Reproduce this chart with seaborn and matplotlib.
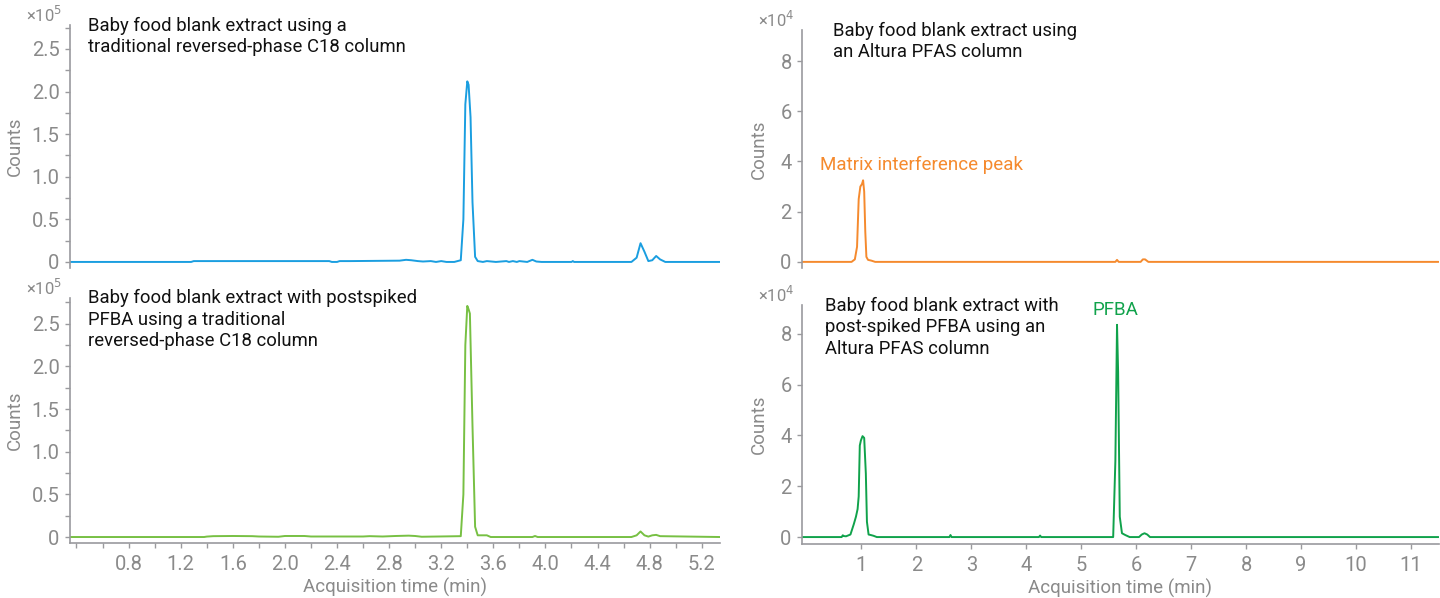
import numpy as np
import pandas as pd
import matplotlib
matplotlib.use("Agg")
import matplotlib.pyplot as plt
import seaborn as sns
from matplotlib.ticker import MultipleLocator, FixedLocator, FuncFormatter, NullFormatter

# ---------------- data (counts in units of the axis multiplier) ----------------
# Panel A: C18 column, blank extract (x1e5)
t_a = [0.35, 1.28, 1.30, 2.34, 2.36, 2.40, 2.42, 2.50, 2.88, 2.93,
       2.97, 3.02, 3.06, 3.12, 3.16, 3.20, 3.24, 3.30, 3.35, 3.37,
       3.385, 3.40, 3.41, 3.425, 3.44, 3.46, 3.48, 3.52, 3.55, 3.62,
       3.70, 3.72, 3.75, 3.78, 3.80, 3.86, 3.90, 3.93, 3.97, 4.20,
       4.21, 4.22, 4.66, 4.70, 4.73, 4.76, 4.79, 4.82, 4.85, 4.88,
       4.92, 5.34]
y_a = [0, 0, 0.01, 0.01, 0, 0, 0.01, 0.01, 0.015, 0.025,
       0.02, 0.01, 0.005, 0.01, 0, 0.01, 0, 0, 0.02, 0.5,
       1.85, 2.12, 2.08, 1.7, 0.7, 0.06, 0.01, 0.0, 0.01, 0,
       0.01, 0, 0.01, 0, 0.01, 0, 0.025, 0.005, 0, 0,
       0.01, 0, 0, 0.05, 0.22, 0.12, 0.01, 0.02, 0.07, 0.03,
       0, 0]

# Panel B: C18 column, post-spiked PFBA (x1e5)
t_b = [0.35, 1.38, 1.40, 1.45, 1.60, 1.75, 1.80, 1.95, 2.00, 2.15,
       2.20, 2.60, 2.65, 2.75, 2.85, 2.95, 3.00, 3.05, 3.35, 3.37,
       3.385, 3.40, 3.41, 3.42, 3.44, 3.46, 3.48, 3.55, 3.58, 3.90,
       3.92, 3.94, 4.66, 4.70, 4.73, 4.76, 4.79, 4.82, 4.85, 4.88,
       5.34]
y_b = [0, 0, 0.005, 0.01, 0.012, 0.01, 0.006, 0.003, 0.012, 0.012,
       0.006, 0.006, 0.01, 0.006, 0.012, 0.016, 0.012, 0.003, 0.01, 0.5,
       2.25, 2.71, 2.67, 2.62, 1.3, 0.12, 0.02, 0.02, 0.0, 0,
       0.012, 0, 0, 0.02, 0.065, 0.02, 0.005, 0.02, 0.025, 0.01,
       0]

# Panel C: Altura PFAS column, blank extract (x1e4)
t_c = [-0.08, 0.82, 0.88, 0.92, 0.95, 0.98, 1.01, 1.03, 1.05, 1.07,
       1.09, 1.12, 1.18, 1.25, 5.62, 5.65, 5.68, 6.08, 6.12, 6.16,
       6.22, 11.5]
y_c = [0, 0, 0.1, 0.6, 2.5, 3.0, 3.1, 3.25, 2.8, 1.2,
       0.2, 0.08, 0.05, 0, 0, 0.08, 0, 0, 0.1, 0.1,
       0, 0]

# Panel D: Altura PFAS column, post-spiked PFBA (x1e4)
t_d = [-0.08, 0.64, 0.66, 0.68, 0.72, 0.80, 0.86, 0.90, 0.93, 0.95,
       0.97, 0.99, 1.02, 1.05, 1.08, 1.10, 1.13, 1.17, 1.22, 1.28,
       2.60, 2.62, 2.64, 4.23, 4.25, 4.27, 5.58, 5.62, 5.65, 5.67,
       5.70, 5.74, 5.80, 5.88, 6.05, 6.10, 6.15, 6.20, 6.25, 11.5]
y_d = [0, 0, 0.07, 0.04, 0.03, 0.1, 0.5, 0.8, 1.1, 1.6,
       3.6, 3.8, 3.97, 3.9, 2.5, 0.6, 0.1, 0.08, 0.05, 0,
       0, 0.08, 0, 0, 0.06, 0, 0, 3.0, 8.35, 6.5,
       0.8, 0.15, 0.08, 0, 0, 0.1, 0.15, 0.1, 0, 0]

titles = [
    "Baby food blank extract using a\ntraditional reversed-phase C18 column",
    "Baby food blank extract with postspiked\nPFBA using a traditional\nreversed-phase C18 column",
    "Baby food blank extract using\nan Altura PFAS column",
    "Baby food blank extract with\npost-spiked PFBA using an\nAltura PFAS column",
]
left_xticks = [0.8, 1.2, 1.6, 2.0, 2.4, 2.8, 3.2, 3.6, 4.0, 4.4, 4.8, 5.2]
right_xticks = [1, 2, 3, 4, 5, 6, 7, 8, 9, 10, 11]
left_yticks = [0, 0.5, 1.0, 1.5, 2.0, 2.5]
right_yticks = [0, 2, 4, 6, 8]

# ---------------- style ----------------
sns.set_theme(style="ticks")
plt.rcParams['font.family'] = ['Roboto', 'DejaVu Sans']

GRAY = "#8a8a8a"
SPINE = "#9a9a9e"
C_BLUE = "#1a9ee0"
C_LGREEN = "#77c043"
C_ORANGE = "#f58a2e"
C_GREEN = "#10a24b"

fig = plt.figure(figsize=(14.4, 5.98), dpi=100)
axA = fig.add_axes([0.0486, 0.552, 0.4514, 0.406])
axB = fig.add_axes([0.0486, 0.092, 0.4514, 0.410])
axC = fig.add_axes([0.557, 0.552, 0.442, 0.398])
axD = fig.add_axes([0.557, 0.090, 0.442, 0.400])

panels = [
    (axA, t_a, y_a, C_BLUE, (0.35, 5.34), (-0.07, 2.78), "5", True, 0.028),
    (axB, t_b, y_b, C_LGREEN, (0.35, 5.34), (-0.07, 2.805), "5", True, 0.028),
    (axC, t_c, y_c, C_ORANGE, (-0.08, 11.5), (-0.24, 9.24), "4", False, 0.049),
    (axD, t_d, y_d, C_GREEN, (-0.08, 11.5), (-0.28, 9.13), "4", False, 0.036),
]

for i, (ax, t, y, col, xl, yl, expo, is_left, tx) in enumerate(panels):
    df = pd.DataFrame({"t": t, "y": y})
    sns.lineplot(data=df, x="t", y="y", ax=ax, color=col, linewidth=1.4,
                 sort=False)
    ax.set_xlim(*xl)
    ax.set_ylim(*yl)
    ax.spines['top'].set_visible(False)
    ax.spines['right'].set_visible(False)
    for s in ('left', 'bottom'):
        ax.spines[s].set_color(SPINE)
        ax.spines[s].set_linewidth(1.2)
    ax.tick_params(axis='both', which='both', colors=SPINE, labelcolor=GRAY,
                   labelsize=14.5, length=3.5, width=1)
    if is_left:
        ax.yaxis.set_major_locator(FixedLocator(left_yticks))
        ax.yaxis.set_minor_locator(MultipleLocator(0.25))
        ax.yaxis.set_major_formatter(FuncFormatter(lambda v, p: "0" if v == 0 else f"{v:.1f}"))
    else:
        ax.yaxis.set_major_locator(FixedLocator(right_yticks))
        ax.yaxis.set_major_formatter(FuncFormatter(lambda v, p: f"{v:.0f}"))
    ax.tick_params(axis='y', which='both', pad=4)
    ax.set_ylabel("Counts", color=GRAY, fontsize=13.5)
    ax.yaxis.set_label_coords(-0.0708 if is_left else -0.053, 0.5)
    # multiplier text
    ax.text(-0.012, 1.0, "×10$^{" + expo + "}$", transform=ax.transAxes,
            ha='right', va='bottom', color=GRAY, fontsize=12)
    ax.text(tx, 1.035, titles[i], transform=ax.transAxes, ha='left',
            va='top', color='#111111', fontsize=13.3, linespacing=1.25)
    if i in (0, 2):
        ax.spines['bottom'].set_visible(False)
        ax.tick_params(axis='x', which='both', bottom=False, labelbottom=False)
        ax.set_xlabel("")
    else:
        ax.set_xlabel("Acquisition time (min)", color=GRAY, fontsize=13.5, labelpad=3)
        if is_left:
            ax.xaxis.set_major_locator(FixedLocator(left_xticks))
            ax.xaxis.set_minor_locator(MultipleLocator(0.2))
            ax.xaxis.set_minor_formatter(NullFormatter())
            ax.xaxis.set_major_formatter(FuncFormatter(lambda v, p: f"{v:.1f}"))
        else:
            ax.xaxis.set_major_locator(FixedLocator(right_xticks))
            ax.xaxis.set_major_formatter(FuncFormatter(lambda v, p: f"{v:.0f}"))
        ax.tick_params(axis='x', which='both', pad=5)

axC.text(0.24, 3.86, "Matrix interference peak", color=C_ORANGE, fontsize=13.5,
         ha='left', va='center')
axD.text(5.62, 8.95, "PFBA", color=C_GREEN, fontsize=13.5, ha='center', va='center')

fig.savefig("out.png", dpi=100)
